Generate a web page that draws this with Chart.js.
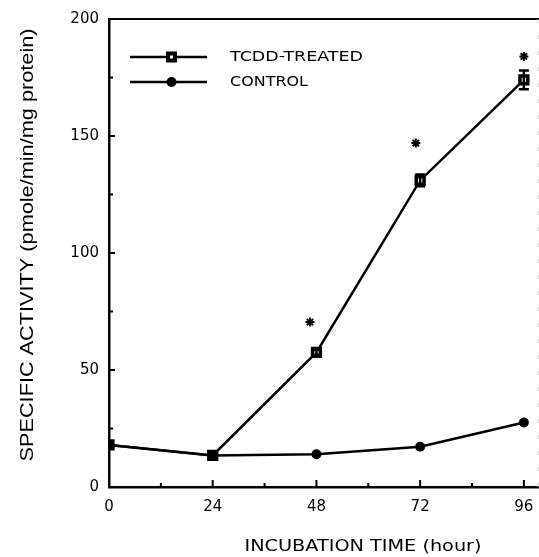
<!DOCTYPE html>
<html>
<head>
<meta charset="utf-8">
<script src="https://cdn.jsdelivr.net/npm/chart.js@4.4.0/dist/chart.umd.min.js"></script>
<style>
  body { margin: 0; background: #fff; }
  canvas { display: block; }
</style>
</head>
<body>
<canvas id="canvas" width="539" height="557"></canvas>
<script>
// incubation time (hour)
let hours = [0, 24, 48, 72, 96];
let xTicks = [0, 24, 48, 72, 96];
let xMinorTicks = [12, 36, 60, 84];
let yTicks = [0, 50, 100, 150, 200];
let yMinorTicks = [25, 75, 125, 175];

// specific activity (pmole/min/mg protein)
let tcdd = [18, 13.5, 57.5, 131, 174];
let tcddErr = [0, 0, 1, 2.5, 4];
let control = [18, 13.5, 14, 17.2, 27.6];

// significance stars
let starHours = [46.5, 71, 96];
let starLevels = [70.5, 147, 184];

let tickFont = "DejaVu Sans";

function toPoints(xs, ys) {
  return xs.map(function (x, i) {
    return { x: x, y: ys[i] };
  });
}

// draw text stretched to a given width (the scan's lettering is wide)
function fitText(ctx, text, cx, cy, width) {
  let w = ctx.measureText(text).width;
  ctx.save();
  ctx.translate(cx, cy);
  ctx.scale(width / w, 1);
  ctx.fillText(text, 0, 0);
  ctx.restore();
}

const extras = {
  id: "extras",
  afterDatasetsDraw(chart) {
    const ctx = chart.ctx;
    const x = chart.scales.x;
    const y = chart.scales.y;
    const area = chart.chartArea;
    ctx.save();

    // error bars on the treated series
    ctx.strokeStyle = "#000";
    ctx.lineWidth = 2.5;
    hours.forEach(function (h, i) {
      if (!tcddErr[i]) return;
      let px = x.getPixelForValue(h);
      let top = y.getPixelForValue(tcdd[i] + tcddErr[i]);
      let bot = y.getPixelForValue(tcdd[i] - tcddErr[i]);
      ctx.beginPath();
      ctx.moveTo(px, top);
      ctx.lineTo(px, bot);
      ctx.moveTo(px - 5, top);
      ctx.lineTo(px + 5, top);
      ctx.moveTo(px - 5, bot);
      ctx.lineTo(px + 5, bot);
      ctx.stroke();
    });

    // top frame line and faint right edge
    ctx.lineWidth = 2;
    ctx.beginPath();
    ctx.moveTo(area.left, area.top);
    ctx.lineTo(area.right, area.top);
    ctx.stroke();
    ctx.strokeStyle = "#ccc";
    ctx.lineWidth = 1;
    ctx.setLineDash([4, 12]);
    ctx.beginPath();
    ctx.moveTo(area.right - 1, area.top);
    ctx.lineTo(area.right - 1, area.bottom);
    ctx.stroke();
    ctx.setLineDash([]);

    // inward tick marks
    ctx.strokeStyle = "#000";
    ctx.lineWidth = 2;
    ctx.beginPath();
    xTicks.slice(1).forEach(function (t) {
      let px = x.getPixelForValue(t);
      ctx.moveTo(px, area.bottom);
      ctx.lineTo(px, area.bottom - 7);
    });
    xMinorTicks.forEach(function (t) {
      let px = x.getPixelForValue(t);
      ctx.moveTo(px, area.bottom);
      ctx.lineTo(px, area.bottom - 4);
    });
    yTicks.slice(1, -1).forEach(function (t) {
      let py = y.getPixelForValue(t);
      ctx.moveTo(area.left, py);
      ctx.lineTo(area.left + 6, py);
    });
    yMinorTicks.forEach(function (t) {
      let py = y.getPixelForValue(t);
      ctx.moveTo(area.left, py);
      ctx.lineTo(area.left + 4, py);
    });
    ctx.stroke();

    // legend
    let legendRows = [
      { label: "TCDD-TREATED", y: 57, style: "rect", width: 133 },
      { label: "CONTROL", y: 82, style: "circle", width: 78 },
    ];
    legendRows.forEach(function (row) {
      ctx.strokeStyle = "#000";
      ctx.lineWidth = 2.5;
      ctx.beginPath();
      ctx.moveTo(130, row.y);
      ctx.lineTo(207, row.y);
      ctx.stroke();
      if (row.style === "rect") {
        ctx.fillStyle = "#000";
        ctx.fillRect(166, row.y - 5.5, 11, 11);
        ctx.fillStyle = "#fff";
        ctx.fillRect(170, row.y - 1.5, 3, 3);
      } else {
        ctx.fillStyle = "#000";
        ctx.beginPath();
        ctx.arc(171.5, row.y, 5, 0, Math.PI * 2);
        ctx.fill();
      }
      ctx.fillStyle = "#000";
      ctx.font = "14px " + tickFont;
      ctx.textAlign = "left";
      ctx.textBaseline = "middle";
      fitText(ctx, row.label, 230, row.y, row.width);
    });

    // axis titles
    ctx.fillStyle = "#000";
    ctx.textAlign = "center";
    ctx.textBaseline = "middle";
    ctx.font = "16px " + tickFont;
    fitText(ctx, "INCUBATION TIME (hour)", 363, 547, 237);

    ctx.translate(28, 245);
    ctx.rotate(-Math.PI / 2);
    ctx.font = "19px 'Liberation Sans'";
    fitText(ctx, "SPECIFIC ACTIVITY (pmole/min/mg protein)", 0, 0, 433);
    ctx.restore();
  },
};

const ctx = document.getElementById("canvas").getContext("2d");
const myChart = new Chart(ctx, {
  type: "line",
  data: {
    datasets: [
      {
        label: "TCDD-TREATED",
        data: toPoints(hours, tcdd),
        borderColor: "#000",
        borderWidth: 2.5,
        backgroundColor: "#fff",
        pointStyle: "rect",
        pointRadius: 5.5,
        pointBorderWidth: 3.5,
        pointBorderColor: "#000",
        pointBackgroundColor: "#fff",
        order: 2,
      },
      {
        label: "CONTROL",
        data: toPoints(hours, control),
        borderColor: "#000",
        borderWidth: 2.5,
        pointStyle: "circle",
        pointRadius: 5,
        pointBorderWidth: 0,
        pointBackgroundColor: "#000",
        order: 1,
      },
      {
        label: "significant",
        data: toPoints(starHours, starLevels),
        showLine: false,
        pointStyle: "star",
        pointRadius: 4.5,
        pointBorderWidth: 2,
        pointBorderColor: "#000",
        order: 0,
      },
    ],
  },
  options: {
    responsive: false,
    animation: false,
    layout: { autoPadding: false, padding: { top: 19, right: 0, left: 0, bottom: 0 } },
    elements: { line: { tension: 0 } },
    plugins: {
      legend: { display: false },
      tooltip: { enabled: false },
    },
    scales: {
      x: {
        type: "linear",
        min: 0,
        max: 99.5,
        afterBuildTicks: function (scale) {
          scale.ticks = xTicks.map(function (v) {
            return { value: v };
          });
        },
        afterFit: function (scale) {
          scale.height = 70;
          scale.paddingLeft = 0;
          scale.paddingRight = 0;
        },
        grid: { display: false, drawTicks: false },
        border: { display: true, color: "#000", width: 2.5 },
        ticks: {
          color: "#000",
          padding: 11,
          maxRotation: 0,
          autoSkip: false,
          font: { family: tickFont, size: 15 },
        },
      },
      y: {
        min: 0,
        max: 200,
        afterBuildTicks: function (scale) {
          scale.ticks = yTicks.map(function (v) {
            return { value: v };
          });
        },
        afterFit: function (scale) {
          scale.width = 109;
          scale.paddingTop = 0;
          scale.paddingBottom = 0;
        },
        grid: { display: false, drawTicks: false },
        border: { display: true, color: "#000", width: 2.5 },
        ticks: {
          color: "#000",
          padding: 10,
          font: { family: tickFont, size: 15 },
        },
      },
    },
  },
  plugins: [extras],
});
</script>
</body>
</html>
